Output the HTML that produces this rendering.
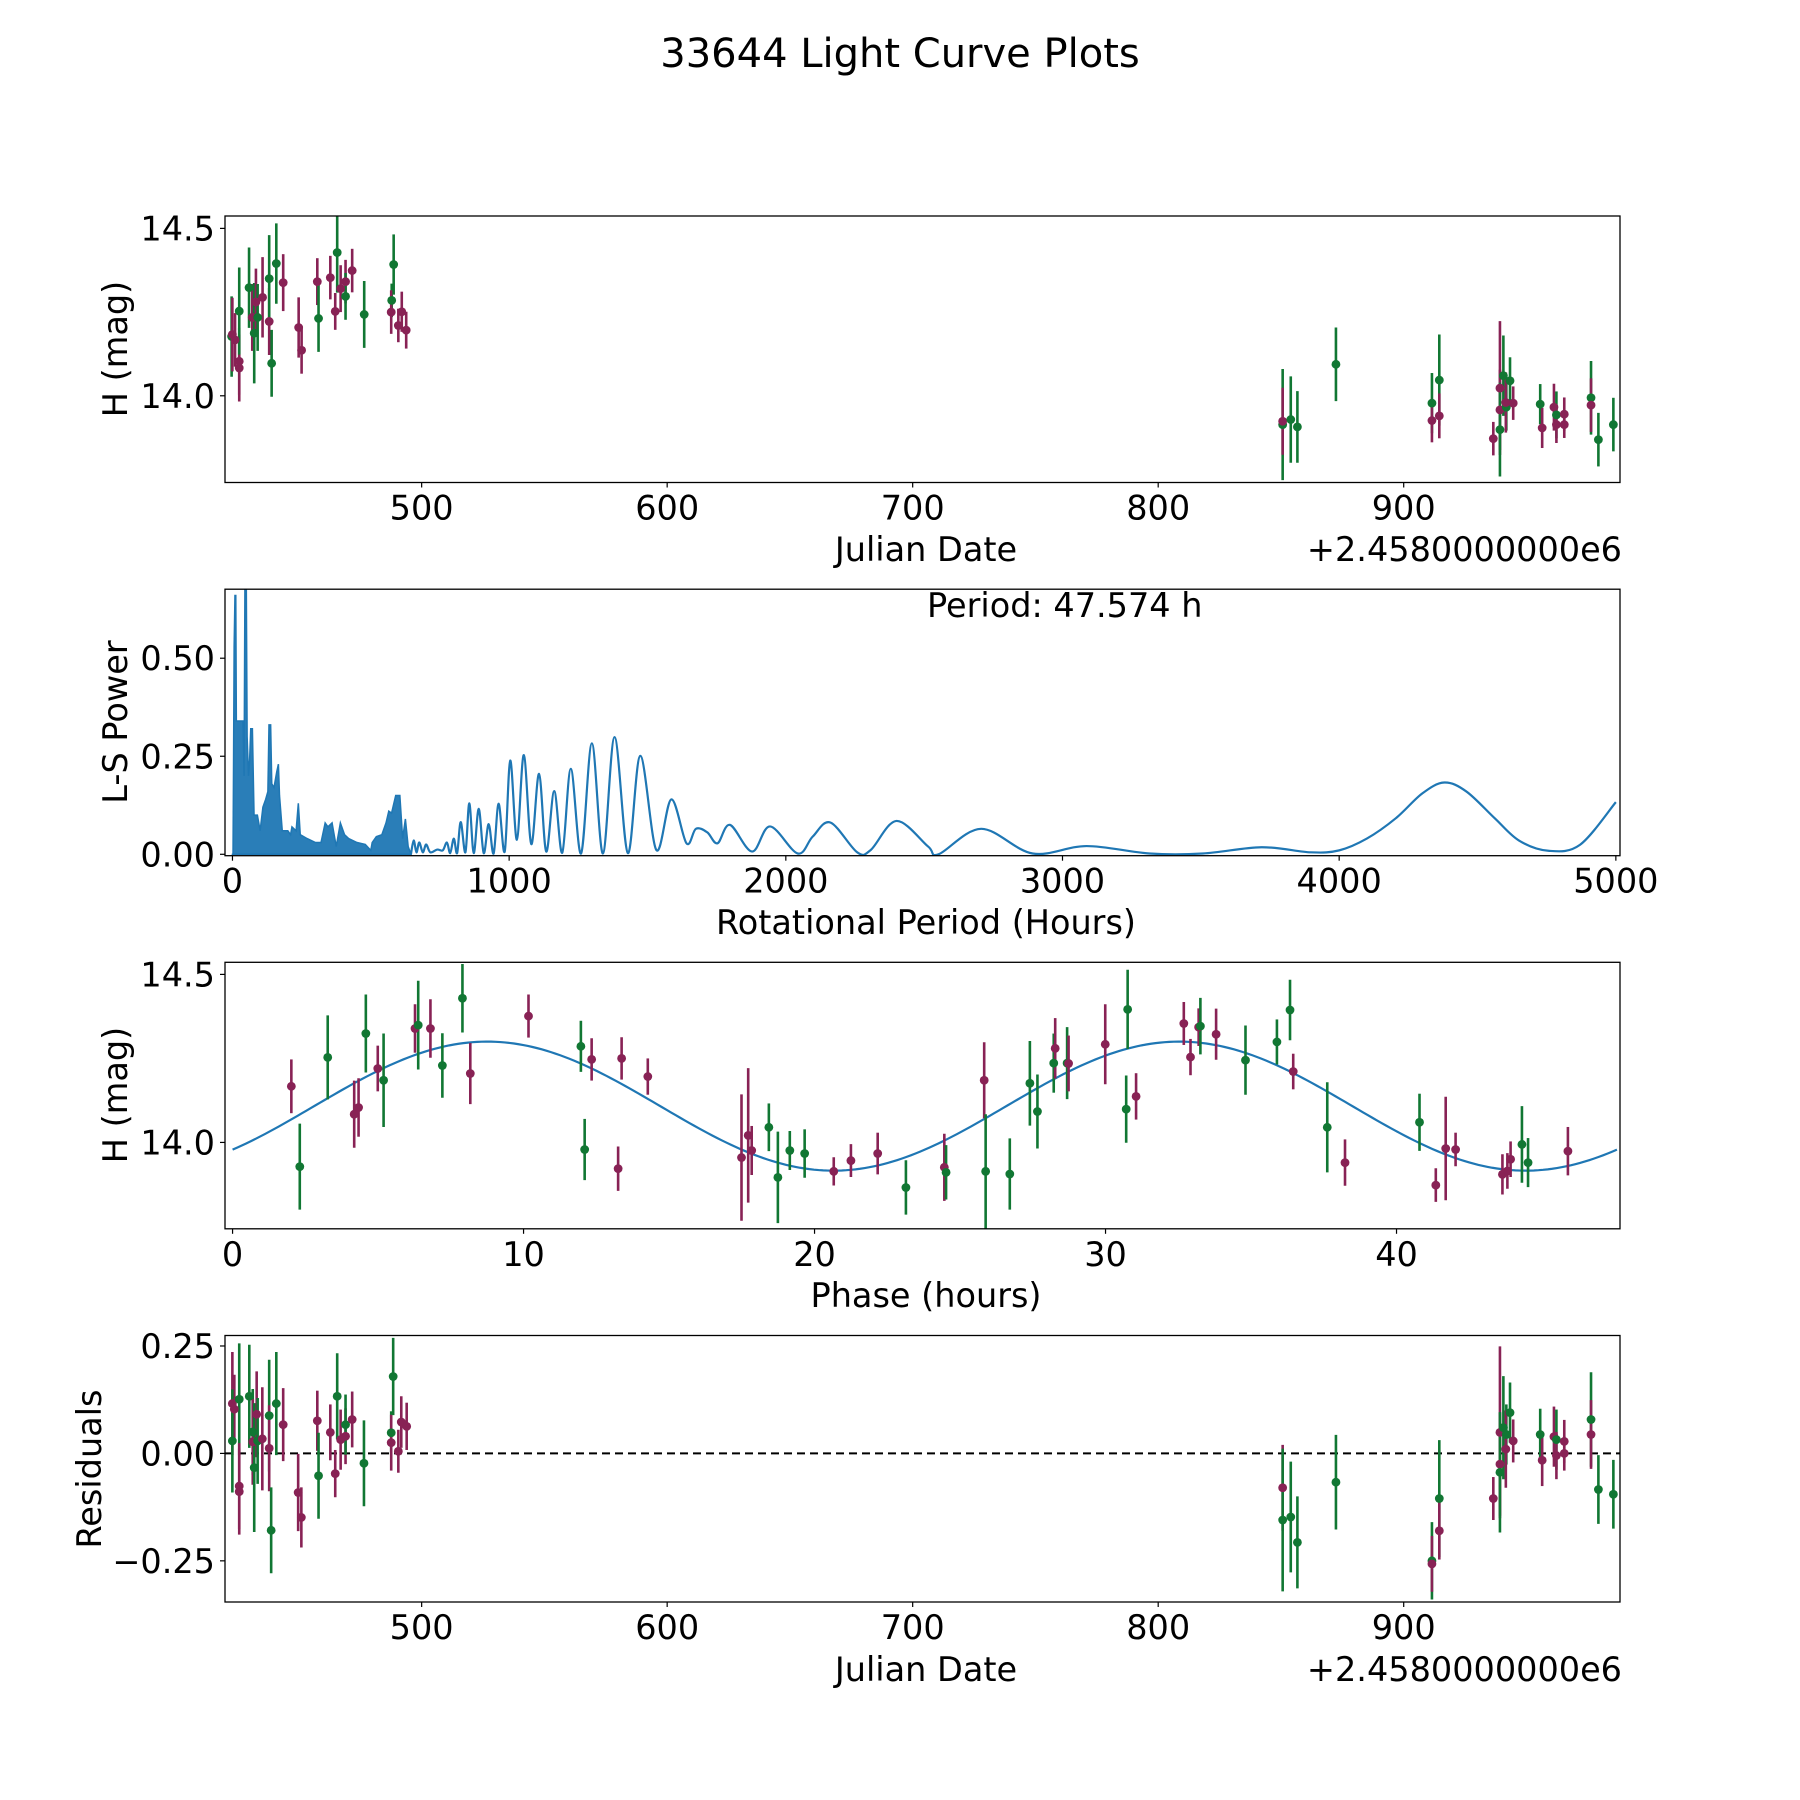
<!DOCTYPE html>
<html><head><meta charset="utf-8"><title>33644 Light Curve Plots</title>
<style>html,body{margin:0;padding:0;background:#fff;}svg{display:block;font-family:"DejaVu Sans","Liberation Sans",sans-serif;}</style>
</head><body>
<svg id="fig" xmlns="http://www.w3.org/2000/svg" width="1800" height="1800" viewBox="0 0 1800 1800">
<rect x="0" y="0" width="1800" height="1800" fill="#fff"/>
<text x="900" y="67" font-size="40" text-anchor="middle" fill="#000">33644 Light Curve Plots</text>
</svg>
<script>
// ---------- Panel 1: light curve (Julian Date) ----------
const p1Jd=[422.6,422.9,424.0,425.7,425.7,425.7,429.7,431.0,431.8,432.5,433.2,435.2,437.9,437.9,438.9,440.8,443.6,449.9,451.1,457.5,458.0,462.8,464.8,465.6,467.0,469.0,469.0,471.7,476.6,487.8,487.6,488.6,490.5,491.9,493.7,
850.7,850.7,854.0,856.7,872.4,911.5,911.5,914.5,914.5,936.5,939.2,939.2,939.2,940.6,941.8,941.6,943.3,944.6,955.6,956.4,961.2,962.2,962.2,965.4,965.4,976.3,976.3,979.3,985.4];
const p1Mag=[14.177,14.183,14.167,14.103,14.083,14.253,14.323,14.234,14.187,14.28,14.234,14.294,14.222,14.35,14.097,14.395,14.338,14.204,14.136,14.341,14.231,14.353,14.252,14.428,14.32,14.341,14.297,14.374,14.243,14.285,14.25,14.392,14.21,14.251,14.196,
13.914,13.924,13.929,13.907,14.094,13.978,13.926,14.047,13.94,13.872,14.023,13.958,13.899,14.06,13.966,13.98,14.045,13.978,13.975,13.904,13.966,13.943,13.914,13.945,13.914,13.994,13.972,13.869,13.914];
const p1Err=[0.12,0.11,0.08,0.1,0.1,0.13,0.12,0.1,0.15,0.1,0.1,0.12,0.1,0.13,0.1,0.12,0.085,0.09,0.07,0.07,0.1,0.065,0.055,0.12,0.07,0.065,0.07,0.065,0.1,0.05,0.065,0.09,0.05,0.06,0.055,
0.166,0.1,0.129,0.107,0.11,0.09,0.065,0.136,0.067,0.05,0.2,0.12,0.14,0.12,0.07,0.09,0.07,0.05,0.06,0.06,0.07,0.07,0.055,0.05,0.04,0.11,0.08,0.08,0.08];
const p1Color=['g','m','m','m','m','g','g','m','g','m','g','m','m','g','g','g','m','m','m','m','g','m','m','g','m','m','g','m','g','g','m','g','m','m','m',
'g','m','g','g','g','g','m','g','m','m','m','m','g','g','g','m','g','m','g','m','m','g','m','m','m','g','m','g','g'];
const jdTicks=[500,600,700,800,900];
const magTicks=[14.0,14.5];
const magTickLabels=['14.0','14.5'];

// ---------- Panel 2: Lomb-Scargle periodogram ----------
const lsDensePeriod=[0,2,4,6,9,12,14,20,30,38,42,45,50,53,58,62,66,72,78,90,100,110,120,128,132,138,142,150,160,166,170,180,200,210,215,230,238,245,270,300,320,335,345,360,375,390,405,420,450,480,500,505,520,540,555,565,575,590,605,615,625,635,645];
const lsDensePower=[0,0,0.25,0.53,0.66,0.66,0.34,0.34,0.34,0.34,0.2,0.69,0.69,0.3,0.2,0.24,0.32,0.32,0.1,0.1,0.06,0.12,0.14,0.16,0.33,0.33,0.18,0.17,0.21,0.23,0.15,0.06,0.06,0.05,0.07,0.06,0.13,0.05,0.04,0.03,0.03,0.08,0.07,0.08,0.02,0.08,0.05,0.04,0.03,0.025,0.01,0.03,0.045,0.05,0.08,0.11,0.105,0.15,0.15,0.04,0.09,0.02,0];
const lsPeriod=[645,655,665,675,688,700,715,740,760,775,787,800,812,825,842,856,872,890,908,926,944,962,984,1004,1028,1053,1080,1108,1134,1163,1192,1223,1260,1299,1339,1381,1429,1474,1532,1586,1641,1675,1716,1753,1798,1878,1943,2043,2097,2161,2258,2307,2400,2514,2552,2706,2892,3087,3314,3508,3719,3897,4000,4100,4205,4300,4380,4460,4562,4650,4756,4870,5000];
const lsPower=[0,0.035,0.005,0.03,0.005,0.025,0.005,0.012,0.01,0.03,0.003,0.04,0.003,0.082,0.005,0.13,0.003,0.116,0.003,0.077,0.002,0.129,0.007,0.239,0.037,0.253,0.026,0.205,0.007,0.161,0.004,0.218,0.002,0.283,0.002,0.299,0.003,0.251,0.011,0.14,0.028,0.065,0.056,0.028,0.075,0.007,0.071,0.002,0.045,0.081,0.005,0.011,0.085,0.02,0.0,0.065,0.002,0.021,0.002,0.002,0.018,0.005,0.01,0.04,0.092,0.155,0.183,0.16,0.092,0.035,0.009,0.024,0.133];
const periodTicks=[0,1000,2000,3000,4000,5000];
const powerTicks=[0,0.25,0.5];
const powerTickLabels=['0.00','0.25','0.50'];

// ---------- Panel 3: phase-folded ----------
const phPhase=[2.02,2.31,3.27,4.18,4.33,4.58,4.99,5.19,6.27,6.38,6.8,7.21,7.9,8.17,10.17,11.97,12.1,12.34,13.25,13.37,14.27,17.49,17.72,17.84,18.43,18.74,19.15,19.66,20.66,21.25,22.17,23.14,
24.46,24.52,25.83,25.88,26.71,27.4,27.66,28.22,28.27,28.68,28.73,29.99,30.71,30.76,31.05,32.69,32.92,33.2,33.26,33.8,34.81,35.89,36.34,36.45,37.62,38.23,40.79,41.35,41.69,42.03,43.64,43.81,43.92,44.31,44.52,45.89];
const phMag=[14.167,13.928,14.253,14.084,14.104,14.324,14.22,14.185,14.339,14.349,14.339,14.229,14.429,14.205,14.376,14.286,13.979,14.247,13.922,14.25,14.196,13.955,14.021,13.976,14.045,13.896,13.976,13.967,13.914,13.946,13.967,13.866,
13.926,13.911,14.185,13.914,13.906,14.176,14.092,14.236,14.28,14.236,14.235,14.292,14.099,14.396,14.137,14.354,14.254,14.343,14.346,14.322,14.245,14.299,14.394,14.211,14.045,13.94,14.06,13.873,13.982,13.979,13.905,13.915,13.95,13.994,13.94,13.974];
const phErr=[0.08,0.128,0.125,0.1,0.087,0.116,0.068,0.139,0.072,0.132,0.087,0.096,0.102,0.091,0.064,0.076,0.091,0.063,0.066,0.063,0.054,0.188,0.2,0.073,0.071,0.136,0.058,0.072,0.042,0.049,0.062,0.081,
0.1,0.081,0.113,0.17,0.106,0.126,0.11,0.088,0.09,0.107,0.083,0.119,0.1,0.118,0.069,0.064,0.054,0.056,0.084,0.076,0.103,0.067,0.09,0.053,0.134,0.069,0.085,0.05,0.154,0.05,0.06,0.053,0.053,0.114,0.073,0.072];
const phColor=['m','g','g','m','m','g','m','g','m','g','m','g','g','m','m','g','g','m','m','m','m','m','m','m','g','g','g','g','m','m','m','g',
'm','g','m','g','g','g','g','g','m','g','m','m','g','g','m','m','m','m','g','m','g','g','g','m','g','m','g','m','m','m','m','m','m','g','g','m'];
const modelParams=[14.108,0.192,8.75,23.787]; // mean, amplitude, peak phase, cycle length
const modelRange=[0,47.574];
const phaseTicks=[0,10,20,30,40];

// ---------- Panel 4: residuals ----------
const resJd=[422.9,423.7,422.9,425.7,425.7,425.7,429.8,431.2,431.2,431.8,432.8,433.2,435.1,437.9,437.9,438.7,440.8,443.6,449.7,451.0,457.5,458.0,462.8,464.8,465.6,467.0,469.0,469.0,471.7,476.5,487.6,487.6,488.4,490.5,491.7,493.9,
850.7,850.7,854.0,856.7,872.4,911.5,911.5,914.5,914.5,936.5,939.2,939.2,939.2,940.6,941.8,941.6,943.3,944.6,955.6,956.4,961.2,962.2,962.2,965.4,965.4,976.3,976.3,979.3,985.4];
const resVal=[0.116,0.103,0.029,0.126,-0.076,-0.089,0.133,0.05,0.027,-0.033,0.091,0.029,0.034,0.088,0.012,-0.179,0.116,0.067,-0.091,-0.149,0.076,-0.052,0.049,-0.047,0.133,0.032,0.04,0.067,0.079,-0.023,0.048,0.025,0.179,0.005,0.073,0.063,
-0.08,-0.155,-0.148,-0.207,-0.067,-0.25,-0.257,-0.105,-0.18,-0.105,0.049,-0.025,-0.044,0.06,0.044,0.01,0.095,0.029,0.044,-0.016,0.039,0.032,-0.005,0.028,0.0,0.079,0.044,-0.084,-0.095];
const resErr=[0.12,0.08,0.12,0.13,0.1,0.1,0.12,0.1,0.1,0.15,0.1,0.1,0.12,0.13,0.1,0.1,0.12,0.085,0.09,0.07,0.07,0.1,0.065,0.055,0.1,0.07,0.065,0.07,0.065,0.1,0.05,0.065,0.09,0.05,0.06,0.055,
0.1,0.166,0.129,0.107,0.11,0.09,0.065,0.136,0.067,0.05,0.2,0.12,0.14,0.12,0.07,0.09,0.07,0.05,0.06,0.06,0.07,0.07,0.055,0.05,0.04,0.11,0.08,0.08,0.08];
const resColor=['m','m','g','g','m','m','g','g','m','g','m','g','m','g','m','g','g','m','m','m','m','g','m','m','g','m','m','g','m','g','g','m','g','m','m','m',
'm','g','g','g','g','g','m','g','m','m','m','m','g','g','g','m','g','m','g','m','m','g','m','m','m','g','m','g','g'];
const resTicks=[-0.25,0,0.25];
const resTickLabels=['\u22120.25','0.00','0.25'];

// ---------- drawing ----------
const NS='http://www.w3.org/2000/svg';
const svg=document.getElementById('fig');
const COL={g:'#117733',m:'#882255'};
const FS=33.5;
function el(tag,attrs,parent){const e=document.createElementNS(NS,tag);for(const k in attrs)e.setAttribute(k,attrs[k]);(parent||svg).appendChild(e);return e;}
function makeAxes(name,left,top,w,h,xmin,xmax,ymin,ymax){
  const g=el('g',{});
  
  
  const clipId=name+'-clip';
  const cp=el('clipPath',{id:clipId},g);el('rect',{x:left,y:top,width:w,height:h},cp);
  const plot=el('g',{'clip-path':'url(#'+clipId+')'},g);
  
  
  return {g,plot,left,top,w,h,
    sx:v=>left+(v-xmin)/(xmax-xmin)*w,
    sy:v=>top+h-(v-ymin)/(ymax-ymin)*h};
}
function frame(ax){
  const r=el('rect',{x:ax.left,y:ax.top,width:ax.w,height:ax.h,fill:'none',stroke:'#000','stroke-width':1.3},ax.g);
  
  
}
function xTicks(ax,vals,labels,name){
  const grp=el('g',{},ax.g);
  
  
  vals.forEach((v,i)=>{const x=ax.sx(v),y=ax.top+ax.h;
    el('line',{x1:x,x2:x,y1:y,y2:y+5,stroke:'#000','stroke-width':1.2},grp);
    const t=el('text',{x:x,y:y+37,'font-size':FS,'text-anchor':'middle',fill:'#000'},grp);t.textContent=labels[i];
    
    });
}
function yTicks(ax,vals,labels,name){
  const grp=el('g',{},ax.g);
  
  
  vals.forEach((v,i)=>{const y=ax.sy(v),x=ax.left;
    el('line',{x1:x-5,x2:x,y1:y,y2:y,stroke:'#000','stroke-width':1.2},grp);
    const t=el('text',{x:x-10,y:y+12,'font-size':FS,'text-anchor':'end',fill:'#000'},grp);t.textContent=labels[i];
    
    });
}
function label(txt,x,y,rot,name,anchor){
  const t=el('text',{x:x,y:y,'font-size':FS,'text-anchor':anchor||'middle',fill:'#000'});
  if(rot)t.setAttribute('transform','rotate(-90 '+x+' '+y+')');
  t.textContent=txt;
  
  
}
function errPoints(ax,xs,ys,es,cs,name){
  const grp=el('g',{},ax.plot);
  
  
  xs.forEach((xv,i)=>{const x=ax.sx(xv),c=COL[cs[i]];
    const l=el('line',{x1:x,x2:x,y1:ax.sy(ys[i]+es[i]),y2:ax.sy(ys[i]-es[i]),stroke:c,'stroke-width':2.6},grp);
    
    });
  xs.forEach((xv,i)=>{
    const p=el('circle',{cx:ax.sx(xv),cy:ax.sy(ys[i]),r:4.4,fill:COL[cs[i]]},grp);
    
    });
}
const L=225,W=1395,H=266.5,TOPS=[216,589.2,962.3,1335.5];
const fmtJd=v=>String(v);

// Panel 1
const a1=makeAxes('light-curve-panel',L,TOPS[0],W,H,419.9,988.1,13.741,14.537);
errPoints(a1,p1Jd,p1Mag,p1Err,p1Color,'light-curve-points');
frame(a1);xTicks(a1,jdTicks,jdTicks.map(fmtJd),'x-ticks-julian');yTicks(a1,magTicks,magTickLabels,'y-ticks-mag');
label('Julian Date',926,561,false,'x-axis-title-julian');
label('+2.4580000000e6',1622,561,false,'x-offset-text','end');
label('H (mag)',127,349,true,'y-axis-title-mag');

// Panel 2
const a2=makeAxes('periodogram-panel',L,TOPS[1],W,H,-27,5015,-0.0036,0.676);
(function(){
  let d='M'+a2.sx(lsDensePeriod[0])+' '+a2.sy(0);
  lsDensePeriod.forEach((p,i)=>{d+=' L'+a2.sx(p).toFixed(2)+' '+a2.sy(lsDensePower[i]).toFixed(2);});
  d+=' L'+a2.sx(lsDensePeriod[lsDensePeriod.length-1])+' '+a2.sy(0)+' Z';
  const f=el('path',{d:d,fill:'#1f77b4','fill-opacity':0.95,stroke:'#1f77b4','stroke-width':1.5},a2.plot);
  
  
  const pts=lsPeriod.map((p,i)=>[a2.sx(p),a2.sy(lsPower[i])]);
  let s='M'+pts[0][0].toFixed(2)+' '+pts[0][1].toFixed(2);
  for(let i=0;i<pts.length-1;i++){
    const p0=pts[Math.max(0,i-1)],p1=pts[i],p2=pts[i+1],p3=pts[Math.min(pts.length-1,i+2)];
    const c1=[p1[0]+(p2[0]-p0[0])/6,p1[1]+(p2[1]-p0[1])/6],c2=[p2[0]-(p3[0]-p1[0])/6,p2[1]-(p3[1]-p1[1])/6];
    s+=' C'+c1[0].toFixed(2)+' '+c1[1].toFixed(2)+' '+c2[0].toFixed(2)+' '+c2[1].toFixed(2)+' '+p2[0].toFixed(2)+' '+p2[1].toFixed(2);
  }
  const ln=el('path',{d:s,fill:'none',stroke:'#1f77b4','stroke-width':2.2,'stroke-linejoin':'round'},a2.plot);
  
  
})();
frame(a2);xTicks(a2,periodTicks,periodTicks.map(String),'x-ticks-period');yTicks(a2,powerTicks,powerTickLabels,'y-ticks-power');
label('Rotational Period (Hours)',926,934,false,'x-axis-title-period');
label('L-S Power',127,722,true,'y-axis-title-power');
label('Period: 47.574 h',927,617,false,'period-annotation','start');

// Panel 3
const a3=makeAxes('phase-panel',L,TOPS[2],W,H,-0.26,47.68,13.743,14.536);
(function(){
  let d='';const N=300;
  for(let i=0;i<=N;i++){const ph=modelRange[0]+(modelRange[1]-modelRange[0])*i/N;
    const m=modelParams[0]+modelParams[1]*Math.cos(2*Math.PI*(ph-modelParams[2])/modelParams[3]);
    d+=(i?' L':'M')+a3.sx(ph).toFixed(2)+' '+a3.sy(m).toFixed(2);}
  const ln=el('path',{d:d,fill:'none',stroke:'#1f77b4','stroke-width':2.2},a3.plot);
  
  
})();
errPoints(a3,phPhase,phMag,phErr,phColor,'phase-points');
frame(a3);xTicks(a3,phaseTicks,phaseTicks.map(String),'x-ticks-phase');yTicks(a3,magTicks,magTickLabels,'y-ticks-phase-mag');
label('Phase (hours)',926,1307,false,'x-axis-title-phase');
label('H (mag)',127,1095,true,'y-axis-title-phase-mag');

// Panel 4
const a4=makeAxes('residuals-panel',L,TOPS[3],W,H,419.9,988.1,-0.3458,0.2744);
(function(){const z=el('line',{x1:L,x2:L+W,y1:a4.sy(0),y2:a4.sy(0),stroke:'#000','stroke-width':2,'stroke-dasharray':'8,5'},a4.plot);
  
  })();
errPoints(a4,resJd,resVal,resErr,resColor,'residual-points');
frame(a4);xTicks(a4,jdTicks,jdTicks.map(fmtJd),'x-ticks-res-julian');yTicks(a4,resTicks,resTickLabels,'y-ticks-residuals');
label('Julian Date',926,1681,false,'x-axis-title-res-julian');
label('+2.4580000000e6',1622,1681,false,'x-offset-text-res','end');
label('Residuals',101,1469,true,'y-axis-title-residuals');
</script>
</body></html>
